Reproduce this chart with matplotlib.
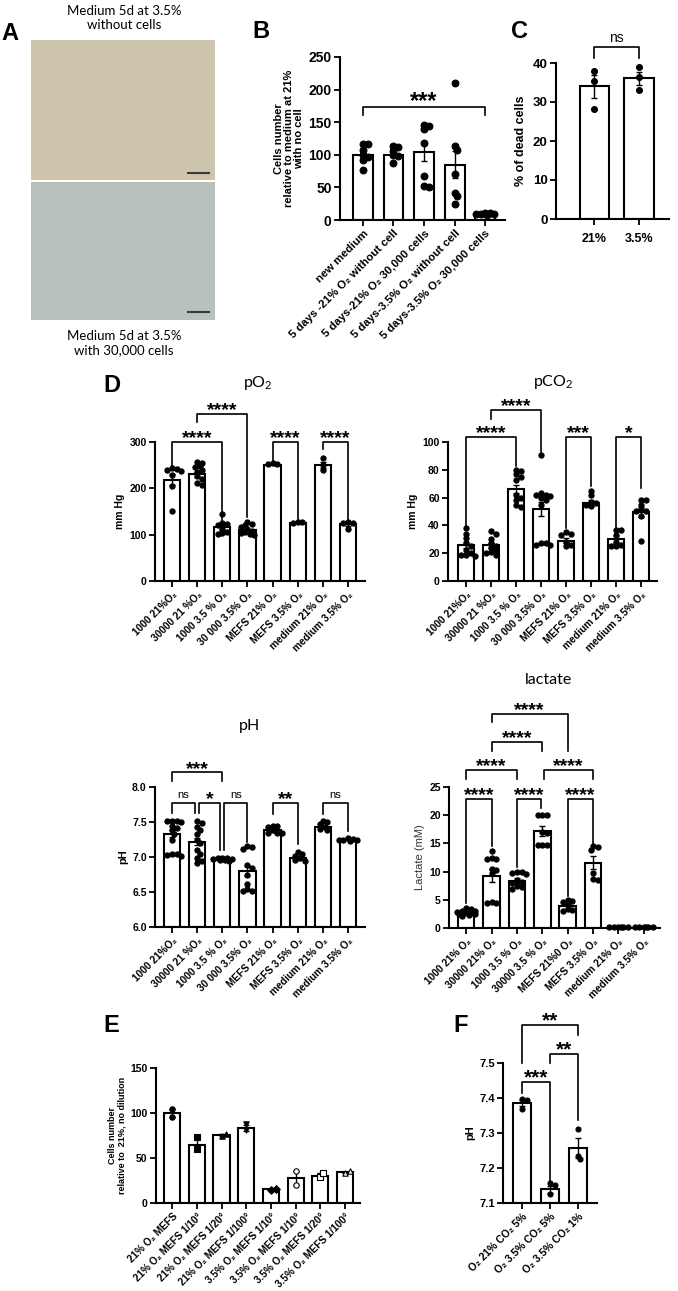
import numpy as np
import matplotlib.pyplot as plt

plt.rcParams['font.family'] = ['Liberation Sans', 'DejaVu Sans']
plt.rcParams['mathtext.fontset'] = 'custom'
plt.rcParams['mathtext.rm'] = 'Lato'
plt.rcParams['mathtext.it'] = 'Lato'

W, H = 678, 1291

# ---- B: cell number after 5 days of conditioned medium
B_labels = ['new medium', '5 days -21% O₂ without cell', '5 days-21% O₂ 30,000 cells',
            '5 days-3.5% O₂ without cell', '5 days-3.5% O₂ 30,000 cells']
B_means = [100, 100, 105, 85, 9]
B_sems = [5, 4, 15, 21, 0.7]
B_points = [[116, 116, 107, 100, 97, 92, 76],
            [113, 112, 106, 100, 98, 88],
            [145, 144, 139, 118, 68, 52, 50],
            [210, 113, 108, 70, 42, 37, 25],
            [10, 10, 9, 9, 9, 8]]
B_sig = [(0, 4, 174, 161, 161, '***')]

# ---- C: dead cells
C_labels = ['21%', '3.5%']
C_means = [34.0, 36.1]
C_sems = [2.9, 1.7]
C_points = [[38, 35.5, 28.3], [39, 36.4, 33]]
C_sig = [(0, 1, 44, 41.4, 41.4, 'ns')]

# ---- D: blood gas
D_labels = ['1000 21%O₂', '30000 21 %O₂', '1000 3.5 % O₂', '30 000 3.5% O₂',
            'MEFS 21% O₂', 'MEFS 3.5% O₂', 'medium 21% O₂', 'medium 3.5% O₂']
lac_labels = ['1000 21% O₂', '30000 21% O₂', '1000 3.5 % O₂', '30000 3.5 % O₂',
              'MEFS 21%0 O₂', 'MEFS 3.5% O₂', 'medium 21% O₂', 'medium 3.5% O₂']

pO2_means = [219, 230, 116, 110, 251, 126, 250, 122]
pO2_sems = [12, 5, 5, 3, 1, 0.5, 7, 3]
pO2_points = [[244, 241, 240, 238, 228, 205, 152],
              [256, 255, 248, 245, 240, 235, 226, 220, 212, 207],
              [145, 125, 122, 120, 112, 106, 103, 101],
              [128, 122, 120, 116, 112, 108, 105, 103, 101, 100],
              [254, 253, 252],
              [127, 127, 126],
              [265, 250, 240],
              [128, 126, 125, 112]]
pO2_sig = [(0, 2, 300, 246, 131, '****'), (1, 3, 361, 343, 138, '****'),
           (4, 5, 300, 260, 131, '****'), (6, 7, 300, 285, 131, '****')]

pCO2_means = [26, 26, 66, 52, 29, 56, 30, 49.5]
pCO2_sems = [2, 1.5, 3, 5, 2, 2, 2.5, 3.5]
pCO2_points = [[38, 34, 31, 27, 25, 22, 20, 19, 19, 18],
               [36, 34, 30, 27, 25, 24, 22, 21, 20, 19],
               [80, 79, 77, 75, 73, 62, 60, 58, 55, 53],
               [91, 63, 62, 62, 61, 60, 58, 55, 27, 27, 26, 26],
               [35, 34, 33, 28, 26, 25],
               [65, 62, 57, 56, 55, 54],
               [37, 37, 33, 28, 26, 25, 25],
               [58, 58, 55, 52, 50, 50, 47, 29]]
pCO2_sig = [(0, 2, 103.6, 39, 83, '****'), (1, 3, 123, 116.6, 93, '****'),
            (4, 5, 103.6, 38, 68, '***'), (6, 7, 103.6, 38, 67, '*')]

pH_means = [7.33, 7.22, 6.97, 6.80, 7.38, 6.98, 7.43, 7.25]
pH_sems = [0.05, 0.05, 0.005, 0.07, 0.02, 0.02, 0.02, 0.01]
pH_points = [[7.52, 7.52, 7.51, 7.50, 7.45, 7.42, 7.38, 7.33, 7.25, 7.05, 7.04, 7.03, 7.02],
             [7.51, 7.49, 7.43, 7.38, 7.33, 7.25, 7.20, 7.10, 7.05, 6.98, 6.95, 6.92],
             [6.99, 6.98, 6.98, 6.97, 6.97, 6.96, 6.96, 6.95],
             [7.16, 7.15, 7.12, 6.88, 6.85, 6.75, 6.62, 6.55, 6.52, 6.51],
             [7.45, 7.44, 7.43, 7.38, 7.35, 7.35, 7.34],
             [7.07, 7.05, 7.02, 6.98, 6.96, 6.95],
             [7.52, 7.50, 7.47, 7.43, 7.40, 7.38],
             [7.27, 7.26, 7.25, 7.25, 7.24, 7.23]]
pH_sig = [(0, 2, 8.21, 8.08, 8.08, '***'), (0, 0.92, 7.77, 7.63, 7.63, 'ns'),
          (1.08, 1.92, 7.77, 7.63, 7.10, '*'), (2.08, 3, 7.77, 7.10, 7.22, 'ns'),
          (4, 5, 7.77, 7.62, 7.19, '**'), (6, 7, 7.77, 7.62, 7.37, 'ns')]

lac_means = [2.7, 9.3, 8.4, 17.2, 3.9, 11.6, 0.15, 0.15]
lac_sems = [0.15, 1.1, 0.4, 0.9, 0.3, 1.2, 0.02, 0.02]
lac_points = [[3.6, 3.3, 3.1, 3.0, 2.9, 2.8, 2.7, 2.6, 2.5, 2.4, 2.3, 2.2],
              [13.6, 12.4, 12.3, 12.3, 10.5, 10.2, 9.8, 4.6, 4.5, 4.4],
              [10.0, 9.9, 9.8, 9.5, 8.5, 8.2, 8.0, 7.5, 7.2, 7.0],
              [20.1, 20.1, 20.1, 17.0, 16.8, 14.8, 14.7, 14.7],
              [5.0, 4.7, 4.6, 4.0, 3.3, 3.2, 3.1],
              [14.5, 14.3, 13.9, 9.8, 8.6, 8.5],
              [0.2, 0.2, 0.2, 0.2, 0.2, 0.2],
              [0.2, 0.2, 0.2, 0.2, 0.2, 0.2]]
lac_sig = [(0, 1, 22.9, 4.4, 14.5, '****'), (2, 2.94, 22.9, 10.9, 21.3, '****'),
           (4, 5, 22.9, 5.6, 14.8, '****'), (0, 2, 28, 26.4, 26.4, '****'),
           (3.06, 5, 28, 26.4, 26.4, '****'), (1, 3, 33, 31.4, 31.4, '****'),
           (1, 4, 38, 36.5, 31.3, '****')]

# ---- E: dilutions
E_labels = ['21% O₂ MEFS', '21% O₂ MEFS 1/10°', '21% O₂ MEFS 1/20°', '21% O₂ MEFS 1/100°',
            '3.5% O₂ MEFS 1/10°', '3.5% O₂ MEFS 1/10°', '3.5% O₂ MEFS 1/20°', '3.5% O₂ MEFS 1/100°']
E_means = [100, 65, 75.5, 83.5, 15.5, 27.5, 30.5, 34]
E_sems = [4, 7, 1.5, 3.5, 0.5, 8, 2.5, 1]
E_points = [[104, 96], [73, 60], [74, 77], [88, 81], [15, 16], [36, 20], [29, 33], [33, 36]]
E_markers = ['o', 's', '^', 'v', 'D', 'o', 's', '^']
E_open = [False, False, False, False, False, True, True, True]

# ---- F: pH with CO2
F_labels = ['O₂ 21% CO₂ 5%', 'O₂ 3.5% CO₂ 5%', 'O₂ 3.5% CO₂ 1%']
F_means = [7.385, 7.14, 7.257]
F_sems = [0.009, 0.01, 0.028]
F_points = [[7.398, 7.393, 7.368], [7.157, 7.15, 7.125], [7.311, 7.235, 7.225]]
F_sig = [(0, 1, 7.446, 7.413, 7.16, '***'), (1, 2, 7.527, 7.50, 7.337, '**'),
         (0, 2, 7.609, 7.50, 7.58, '**')]


def add_ax(left, right, top, bottom):
    return fig.add_axes([left / W, 1 - bottom / H, (right - left) / W, (bottom - top) / H])


def swarm(vals, ax, diam=4.6, maxoff=0.42):
    # simple beeswarm, kept inside the bar
    pos = ax.get_position()
    x0, x1 = ax.get_xlim()
    y0, y1 = ax.get_ylim()
    xs = pos.width * W / (x1 - x0)
    ys = pos.height * H / (y1 - y0)
    lim = maxoff * xs
    placed, offs = [], []
    step = diam * 0.5
    for v in vals:
        y = v * ys
        best, bestd = 0.0, -1
        for k in range(60):
            c = ((k + 1) // 2) * step * (1 if k % 2 else -1)
            if abs(c) > lim:
                continue
            d = min([np.hypot(c - o, y - yy) for o, yy in placed] or [99])
            if d >= diam * 0.85:
                best = c
                break
            if d > bestd:
                best, bestd = c, d
        placed.append((best, y))
        offs.append(best / xs)
    return offs


def style(ax, xlim, ylim, yticks, ytsize, labels, xtsize, rot=45):
    ax.set_xlim(xlim)
    ax.set_ylim(ylim)
    for s in ['top', 'right']:
        ax.spines[s].set_visible(False)
    for s in ['left', 'bottom']:
        ax.spines[s].set_linewidth(1.5)
    ax.set_yticks(yticks)
    ax.tick_params(axis='both', direction='out', length=4, width=1.3, pad=2)
    for t in ax.get_yticklabels():
        t.set_fontsize(ytsize)
        t.set_fontweight('bold')
    ax.set_xticks(np.arange(len(labels)))
    if rot:
        ax.set_xticklabels(labels, rotation=rot, ha='right', rotation_mode='anchor',
                           fontsize=xtsize, fontweight='bold')
    else:
        ax.set_xticklabels(labels, fontsize=xtsize, fontweight='bold')


def draw_bars(ax, means, sems, points, base=0, ms=14, markers=None, hollow=None):
    x = np.arange(len(means))
    ax.bar(x, np.array(means) - base, bottom=base, width=0.65, color='white',
           edgecolor='black', linewidth=1.5, zorder=2)
    ax.errorbar(x, means, yerr=sems, fmt='none', ecolor='black', elinewidth=1.0,
                capsize=2.5, capthick=1.0, zorder=3)
    for i, pts in enumerate(points):
        offs = swarm([p - base for p in pts], ax)
        m = markers[i] if markers else 'o'
        fc = 'white' if (hollow and hollow[i]) else 'black'
        ax.scatter(i + np.array(offs), pts, s=ms, marker=m, facecolor=fc,
                   edgecolor='black', linewidth=0.8, zorder=4, clip_on=False)


def sig(ax, items, fs=14, nsfs=8):
    for x1, x2, y, ya, yb, txt in items:
        ax.plot([x1, x1, x2, x2], [ya, y, y, yb], color='black', lw=1.2,
                clip_on=False, zorder=5)
        if txt == 'ns':
            ax.annotate(txt, ((x1 + x2) / 2, y), xytext=(0, 2), textcoords='offset points',
                        ha='center', va='bottom', fontsize=nsfs, annotation_clip=False)
        else:
            ax.annotate(txt, ((x1 + x2) / 2, y), xytext=(0, -1), textcoords='offset points',
                        ha='center', va='baseline', fontsize=fs, fontweight='bold',
                        annotation_clip=False)


def ftext(x, y, s, **kw):
    fig.text(x / W, 1 - y / H, s, **kw)


fig = plt.figure(figsize=(W / 100, H / 100), dpi=100, facecolor='white')

# ---- A: micrographs (flat tones)
for top, bottom, col, bar_y in [(40, 180, '#cdc5ac', 173), (182, 320, '#b8c1bb', 312)]:
    axp = add_ax(31, 215, top, bottom)
    axp.set_facecolor(col)
    axp.set_xticks([])
    axp.set_yticks([])
    for s in axp.spines.values():
        s.set_visible(False)
    axp.set_xlim(0, 184)
    axp.set_ylim(bottom - top, 0)
    axp.plot([157, 178], [bar_y - top, bar_y - top], color='#3a3a3a', lw=1.5)

ftext(124, 18, 'Medium 5d at 3.5%\nwithout cells', family='Lato', fontsize=9.5,
      ha='center', va='center', linespacing=1.25)
ftext(124, 343, 'Medium 5d at 3.5%\nwith 30,000 cells', family='Lato', fontsize=9.5,
      ha='center', va='center', linespacing=1.25)

letter_kw = dict(fontsize=17, fontweight='bold', ha='center', va='center',
                 family=['Liberation Sans Narrow', 'Liberation Sans'])
ftext(10, 33, 'A', **letter_kw)
ftext(261, 31, 'B', **letter_kw)
ftext(519, 31, 'C', **letter_kw)
ftext(112, 385, 'D', **letter_kw)
ftext(111, 1026, 'E', **letter_kw)
ftext(461, 1026, 'F', **letter_kw)

# ---- B
ax = add_ax(340, 505, 57, 220)
style(ax, (-0.75, 4.65), (0, 250), [0, 50, 100, 150, 200, 250], 10, B_labels, 8.2)
draw_bars(ax, B_means, B_sems, B_points, ms=24)
sig(ax, B_sig, fs=17)
ax.set_ylabel('Cells number\nrelative to medium at 21%\nwith no cell', fontsize=8,
              fontweight='bold', linespacing=1.0, labelpad=3)

# ---- C
ax = add_ax(556, 669, 63, 219)
style(ax, (-0.85, 1.67), (0, 40), [0, 10, 20, 30, 40], 9.5, C_labels, 9, rot=0)
ax.tick_params(axis='x', pad=6)
draw_bars(ax, C_means, C_sems, C_points, ms=18)
sig(ax, C_sig, nsfs=10)
ax.set_ylabel('% of dead cells', fontsize=9, fontweight='bold', labelpad=4)

# ---- D top
ax = add_ax(155, 365, 442, 581)
style(ax, (-0.68, 7.68), (0, 300), [0, 100, 200, 300], 7.5, D_labels, 7.3)
draw_bars(ax, pO2_means, pO2_sems, pO2_points)
sig(ax, pO2_sig)
ax.set_ylabel('mm Hg', fontsize=7.5, fontweight='bold', labelpad=3)
ftext(258, 383, r'pO$_2$', family='Lato', fontsize=11.5, ha='center', va='center')

ax = add_ax(448, 657, 442, 581)
style(ax, (-0.72, 7.64), (0, 100), [0, 20, 40, 60, 80, 100], 7.5, D_labels, 7.3)
draw_bars(ax, pCO2_means, pCO2_sems, pCO2_points)
sig(ax, pCO2_sig)
ax.set_ylabel('mm Hg', fontsize=7.5, fontweight='bold', labelpad=3)
ftext(553, 382, r'pCO$_2$', family='Lato', fontsize=11.5, ha='center', va='center')

# ---- D bottom
ax = add_ax(155, 365, 787, 927)
style(ax, (-0.68, 7.68), (6, 8), [6.0, 6.5, 7.0, 7.5, 8.0], 7.5, D_labels, 7.3)
ax.set_yticklabels(['6.0', '6.5', '7.0', '7.5', '8.0'], fontsize=7.5, fontweight='bold')
draw_bars(ax, pH_means, pH_sems, pH_points, base=6)
sig(ax, pH_sig)
ax.set_ylabel('pH', fontsize=8, fontweight='bold', labelpad=3)
ftext(249, 726, 'pH', family='Lato', fontsize=11.5, ha='center', va='center')

ax = add_ax(449, 660, 787, 928)
style(ax, (-0.68, 7.64), (0, 25), [0, 5, 10, 15, 20, 25], 7.5, lac_labels, 7.3)
draw_bars(ax, lac_means, lac_sems, lac_points)
sig(ax, lac_sig)
ax.set_ylabel('Lactate (mM)', fontsize=8, color='#333333', labelpad=3)
ftext(548, 680, 'lactate', family='Lato', fontsize=11.5, ha='center', va='center')

# ---- E
ax = add_ax(156, 360, 1068, 1203)
style(ax, (-0.65, 7.6), (0, 150), [0, 50, 100, 150], 7.5, E_labels, 7.2)
draw_bars(ax, E_means, E_sems, E_points, ms=15, markers=E_markers, hollow=E_open)
ax.set_ylabel('Cells number\nrelative to  21%, no dilution', fontsize=6.5, fontweight='bold',
              linespacing=1.0, labelpad=3)

# ---- F
ax = add_ax(503, 597, 1063, 1203)
style(ax, (-0.68, 2.68), (7.1, 7.5), [7.1, 7.2, 7.3, 7.4, 7.5], 8, F_labels, 7.6)
draw_bars(ax, F_means, F_sems, F_points, base=7.1, ms=13)
sig(ax, F_sig, fs=15)
ax.set_ylabel('pH', fontsize=8, fontweight='bold', labelpad=3)

fig.savefig('out.png', dpi=100)
